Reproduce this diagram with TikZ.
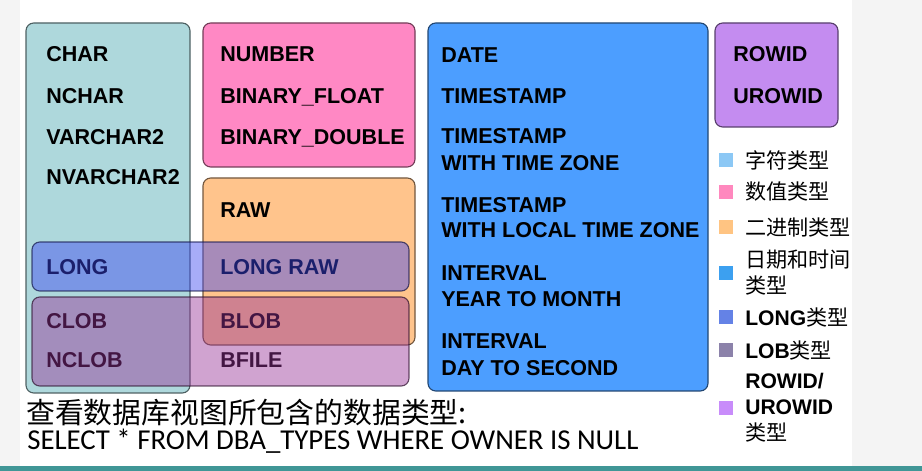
\documentclass[tikz,border=0pt]{standalone}
\usepackage{fontspec}
\setmainfont{Liberation Sans}
\newfontfamily\cjk{Noto Sans CJK SC}
\newfontfamily\sqlfont{Carlito}

\definecolor{charc}{RGB}{174,216,220}
\definecolor{numc}{RGB}{255,136,196}
\definecolor{rawc}{RGB}{255,196,140}
\definecolor{datec}{RGB}{76,158,255}
\definecolor{rowc}{RGB}{196,140,240}
\definecolor{longc}{RGB}{60,70,240}
\definecolor{lobc}{RGB}{150,50,150}
\definecolor{leg1}{RGB}{140,200,245}
\definecolor{leg2}{RGB}{255,136,190}
\definecolor{leg3}{RGB}{255,196,130}
\definecolor{leg4}{RGB}{60,160,240}
\definecolor{leg5}{RGB}{100,130,230}
\definecolor{leg6}{RGB}{140,130,170}
\definecolor{leg7}{RGB}{200,140,250}
\definecolor{edge}{RGB}{244,244,244}
\definecolor{teal}{RGB}{64,150,150}

\tikzset{
	typebox/.style={fill=#1, draw=#1!45!black, rounded corners=5.5pt, line width=0.8pt},
	overbox/.style={fill=#1, fill opacity=0.45, draw=#1!30!black, draw opacity=0.7, rounded corners=5.5pt, line width=0.8pt},
	typ/.style={anchor=base west, inner sep=0pt, font=\fontsize{15.3}{18}\bfseries\selectfont},
	legsq/.style={fill=#1, minimum size=0.35cm, inner sep=0pt},
	legtxt/.style={anchor=west, inner sep=0pt, align=left, font=\fontsize{15}{18.5}\selectfont}
}

\begin{document}
\begin{tikzpicture}[x=0.025cm, y=-0.025cm]

	\useasboundingbox (0,0) rectangle (922,471);
	\fill[edge] (0,0) rectangle (20,466);
	\fill[edge] (852,0) rectangle (922,466);
	\fill[teal] (0,466) rectangle (922,471);

	% type groups
	\draw[typebox=charc] (26,23) rectangle (190,393);
	\draw[typebox=numc] (203,23) rectangle (415,167);
	\draw[typebox=rawc] (203,178) rectangle (415,345);
	\draw[typebox=datec] (428,23) rectangle (708,391);
	\draw[typebox=rowc] (715,23) rectangle (838,127);

	\node[typ] (char) at (46,62) {CHAR};
	\node[typ] (nchar) at (46,104) {NCHAR};
	\node[typ] (varchar) at (46,145) {VARCHAR2};
	\node[typ] (nvarchar) at (46,185) {NVARCHAR2};

	\node[typ] (number) at (220,62) {NUMBER};
	\node[typ] (bfloat) at (220,104) {BINARY\_FLOAT};
	\node[typ] (bdouble) at (220,145) {BINARY\_DOUBLE};
	\node[typ] (raw) at (220,218) {RAW};

	\node[typ] (long) at (46,275) {LONG};
	\node[typ] (longraw) at (220,275) {LONG RAW};
	\node[typ] (clob) at (46,329) {CLOB};
	\node[typ] (nclob) at (46,368) {NCLOB};
	\node[typ] (blob) at (220,329) {BLOB};
	\node[typ] (bfile) at (220,368) {BFILE};

	\node[typ] (date) at (441,63) {DATE};
	\node[typ] (ts) at (441,104) {TIMESTAMP};
	\node[typ] (tz1) at (441,144) {TIMESTAMP};
	\node[typ] (tz2) at (441,171) {WITH TIME ZONE};
	\node[typ] (ltz1) at (441,213) {TIMESTAMP};
	\node[typ] (ltz2) at (441,238) {WITH LOCAL TIME ZONE};
	\node[typ] (ym1) at (441,281) {INTERVAL};
	\node[typ] (ym2) at (441,307) {YEAR TO MONTH};
	\node[typ] (ds1) at (441,349) {INTERVAL};
	\node[typ] (ds2) at (441,376) {DAY TO SECOND};

	\node[typ] (rowid) at (733,62) {ROWID};
	\node[typ] (urowid) at (733,104) {UROWID};

	% LONG and LOB lie over the others
	\draw[overbox=longc] (32,242) rectangle (409,291);
	\draw[overbox=lobc] (32,297) rectangle (409,386);

	% legend
	\foreach \i/\y/\t in {1/160/{\cjk 字符类型}, 2/192/{\cjk 数值类型}, 3/227/{\cjk 二进制类型},
		4/273/{\cjk 日期和时间\\\cjk 类型}, 5/317/{\bfseries LONG\mdseries\cjk 类型}, 6/350/{\bfseries LOB\mdseries\cjk 类型},
		7/408/{\bfseries ROWID/\\\bfseries UROWID\\\cjk 类型}} {
		\node[legsq=leg\i] (sq\i) at (726,\y) {};
		\node[legtxt] (leg\i) at (745,\y) {\t};
	}

	\node[anchor=west, inner sep=0pt, font=\cjk\fontsize{20.5}{24}\selectfont] (title) at (26,413) {查看数据库视图所包含的数据类型:};
	\node[anchor=base west, inner sep=0pt, font=\sqlfont\fontsize{20.5}{24}\selectfont] (sql) at (27,450) {SELECT * FROM DBA\_TYPES WHERE OWNER IS NULL};

\end{tikzpicture}
\end{document}
